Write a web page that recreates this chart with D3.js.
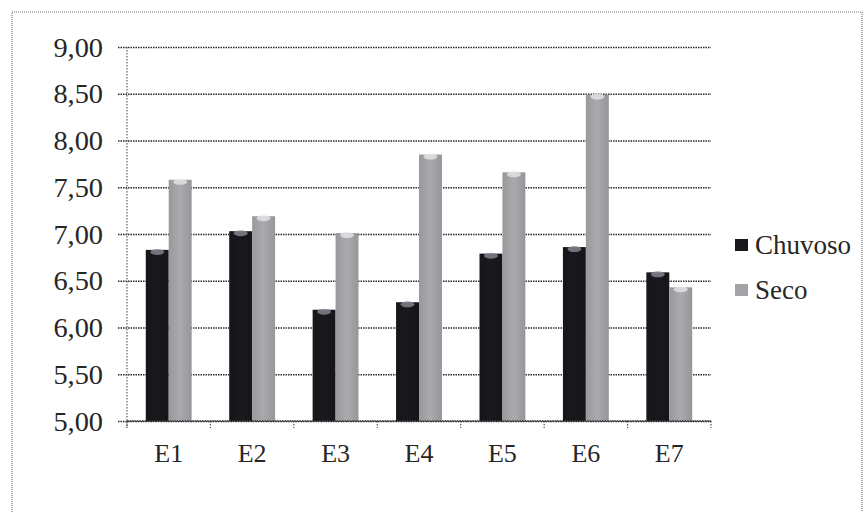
<!DOCTYPE html>
<html>
<head>
<meta charset="utf-8">
<script src="https://cdn.jsdelivr.net/npm/d3@7"></script>
</head>
<body style="margin:0;background:#fff">
<svg id="chart" width="866" height="512" font-family="Liberation Serif"></svg>
<script>
// Sampling points and the two seasons
const categories = ["E1", "E2", "E3", "E4", "E5", "E6", "E7"];
const seriesNames = ["Chuvoso", "Seco"];
const chuvoso = [6.83, 7.03, 6.19, 6.27, 6.79, 6.86, 6.59];
const seco = [7.58, 7.19, 7.01, 7.85, 7.66, 8.49, 6.43];
const yTicks = [5.0, 5.5, 6.0, 6.5, 7.0, 7.5, 8.0, 8.5, 9.0];

const seriesValues = [chuvoso, seco];
const colors = ["#18181c", "#a4a4a8"];
const FONT = "Liberation Serif";
const INK = "#262626";

// Serif text helper: family set both as attribute and as an important inline style
function serif(sel, size) {
  return sel.attr("font-family", FONT)
    .attr("font-size", size)
    .style("font-family", '"Liberation Serif"', "important")
    .style("font-size", size + "px", "important")
    .style("fill", INK);
}

const svg = d3.select("#chart");
const plot = { left: 127, right: 711, top: 47, bottom: 421 };

// Outer dotted frame
svg.append("rect")
  .attr("x", 12).attr("y", 12).attr("width", 850).attr("height", 520)
  .attr("fill", "none").attr("stroke", "#777").attr("stroke-width", 1.2)
  .attr("stroke-dasharray", "1,1");

const x = d3.scaleBand().domain(categories).range([plot.left, plot.right])
  .paddingInner(0.45).paddingOuter(0.225);
const xBand = d3.scaleBand().domain(categories).range([plot.left, plot.right]);
const xSeries = d3.scaleBand().domain(seriesNames).range([0, x.bandwidth()]);
const y = d3.scaleLinear().domain([5, 9]).range([plot.bottom, plot.top]);

const fmt = v => d3.format(".2f")(v).replace(".", ",");

// Horizontal gridlines with value labels
const yAxis = d3.axisLeft(y).tickValues(yTicks).tickFormat(fmt)
  .tickSize(-(plot.right - plot.left)).tickPadding(0);
const gy = svg.append("g").attr("transform", `translate(${plot.left},0)`).call(yAxis)
  .attr("font-family", FONT).attr("font-size", 27);
gy.select(".domain").remove();
gy.selectAll(".tick line")
  .attr("x1", -9)
  .attr("stroke", "#2a2a2a").attr("stroke-width", 1.3).attr("stroke-dasharray", "1.5,1");
serif(gy.selectAll(".tick text"), 27)
  .attr("x", null).attr("dy", null)
  .attr("transform", "translate(-24,9) scale(1.05,1)")
  .attr("text-anchor", "end");

// Vertical axis line
svg.append("line")
  .attr("x1", plot.left).attr("x2", plot.left)
  .attr("y1", plot.top).attr("y2", plot.bottom + 6)
  .attr("stroke", "#555").attr("stroke-width", 1.1).attr("stroke-dasharray", "1.5,1.5");

// Bars with a soft horizontal shading
const defs = svg.append("defs");
colors.forEach((c, i) => {
  const g = defs.append("linearGradient").attr("id", "grad" + i)
    .attr("x1", 0).attr("x2", 1).attr("y1", 0).attr("y2", 0);
  g.append("stop").attr("offset", "0%").attr("stop-color", d3.color(c).darker(0.2));
  g.append("stop").attr("offset", "50%").attr("stop-color", d3.color(c).brighter(0.1));
  g.append("stop").attr("offset", "100%").attr("stop-color", d3.color(c).darker(0.25));
});

const groups = svg.append("g").selectAll("g").data(categories).join("g")
  .attr("transform", d => `translate(${x(d)},0)`);

seriesNames.forEach((name, si) => {
  groups.append("rect")
    .attr("x", xSeries(name))
    .attr("width", xSeries.bandwidth())
    .attr("y", (d, i) => y(seriesValues[si][i]))
    .attr("height", (d, i) => y(5) - y(seriesValues[si][i]))
    .attr("fill", `url(#grad${si})`);
  // bevelled cap highlight on each bar top
  groups.append("ellipse")
    .attr("cx", xSeries(name) + xSeries.bandwidth() / 2)
    .attr("cy", (d, i) => y(seriesValues[si][i]) + 2)
    .attr("rx", xSeries.bandwidth() * 0.3)
    .attr("ry", 3)
    .attr("fill", si === 0 ? "#8a8a95" : "#e6e6ea")
    .attr("opacity", 0.8);
});

// Category axis
svg.append("line")
  .attr("x1", plot.left).attr("x2", plot.right)
  .attr("y1", plot.bottom).attr("y2", plot.bottom)
  .attr("stroke", "#333").attr("stroke-width", 1.3).attr("stroke-dasharray", "1.5,1");
const boundaries = categories.map(c => xBand(c)).concat([plot.right]);
svg.append("g").selectAll("line").data(boundaries).join("line")
  .attr("x1", d => d).attr("x2", d => d)
  .attr("y1", plot.bottom).attr("y2", plot.bottom + 7)
  .attr("stroke", "#444").attr("stroke-width", 1.1).attr("stroke-dasharray", "1.5,1.5");
serif(svg.append("g").selectAll("text").data(categories).join("text"), 26)
  .attr("x", d => xBand(d) + xBand.bandwidth() / 2)
  .attr("y", 462)
  .attr("text-anchor", "middle")
  .text(d => d);

// Legend
const legend = svg.append("g").attr("transform", "translate(735,245)");
seriesNames.forEach((name, i) => {
  const row = legend.append("g").attr("transform", `translate(0,${i * 45})`);
  row.append("rect").attr("x", 0).attr("y", -6).attr("width", 13).attr("height", 12)
    .attr("fill", colors[i]);
  serif(row.append("text"), 27).attr("x", 20).attr("y", 9).text(name);
});
</script>
</body>
</html>
